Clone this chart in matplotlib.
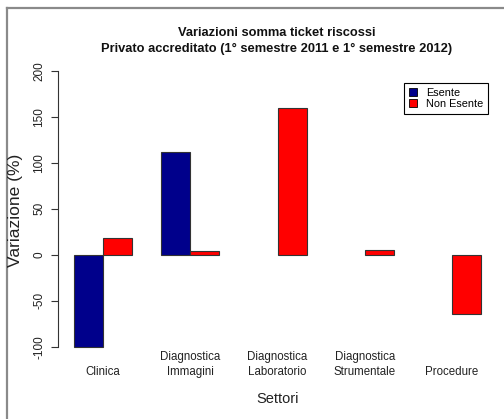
import matplotlib
matplotlib.use("Agg")
import matplotlib.pyplot as plt
from matplotlib.patches import Patch
from matplotlib.lines import Line2D
import numpy as np

categories = ["Clinica", "Diagnostica\nImmagini", "Diagnostica\nLaboratorio",
              "Diagnostica\nStrumentale", "Procedure"]
esente = [-100, 112, np.nan, np.nan, np.nan]
non_esente = [18, 4, 159, 5.5, -65]
yticks = [-100, -50, 0, 50, 100, 150, 200]
series_labels = ["Esente", "Non Esente"]
colors = ["#00008B", "#FF0000"]

REG = ["Liberation Sans", "DejaVu Sans"]

W, H = 504, 419
fig = plt.figure(figsize=(W / 100, H / 100), dpi=100)

# plot region in pixels
L, R, T, B = 57.7, 497.4, 59.7, 357.7
ax = fig.add_axes([L / W, (H - B) / H, (R - L) / W, (B - T) / H])

n = len(categories)
groups = np.arange(n)
x_blue = 1.5 + 3 * groups
x_red = 2.5 + 3 * groups
centers = 2.0 + 3 * groups

ax.bar(x_blue, esente, width=1.0, color=colors[0], edgecolor="#333333", linewidth=0.8)
ax.bar(x_red, non_esente, width=1.0, color=colors[1], edgecolor="#333333", linewidth=0.8)

ax.set_xlim(0.44, 15.56)
ax.set_ylim(-112, 212)

for s in ["top", "right", "bottom"]:
    ax.spines[s].set_visible(False)
ax.spines["left"].set_bounds(-100, 200)
ax.spines["left"].set_color("#333333")
ax.spines["left"].set_linewidth(0.8)

ax.set_xticks([])
ax.set_yticks(yticks)
ax.set_yticklabels([str(v) for v in yticks], rotation=90, va="center",
                   family=REG, fontsize=8.5, color="#222222")
ax.tick_params(axis="y", direction="out", length=5, width=0.8, color="#333333", pad=4)

for c, lab in zip(centers, categories):
    ax.text(c, -0.068, lab, transform=ax.get_xaxis_transform(), ha="center", va="bottom",
            family=REG, fontsize=8.3, color="#222222", linespacing=1.3)

fig.text(277.7 / W, 1 - 399 / H, "Settori", ha="center", va="center",
         family=REG, fontsize=10.5, color="#222222")
fig.text(16 / W, 1 - 210 / H, "Variazione (%)", ha="center", va="center", rotation=90,
         family=REG, fontsize=12.5, color="#222222")

fig.text(277 / W, 1 - 41 / H,
         "Variazioni somma ticket riscossi\nPrivato accreditato (1° semestre 2011 e 1° semestre 2012)",
         ha="center", va="center", family=REG, fontsize=9.3, fontweight="bold",
         color="#111111", linespacing=1.45)

handles = [Patch(facecolor=colors[0], edgecolor="black", linewidth=0.6),
           Patch(facecolor=colors[1], edgecolor="black", linewidth=0.6)]
leg = ax.legend(handles, series_labels, loc="upper left",
                bbox_to_anchor=(404 / W, 1 - 83 / H), bbox_transform=fig.transFigure,
                prop={"family": REG, "size": 7.8}, fancybox=False, framealpha=1,
                edgecolor="black", handlelength=0.75, handleheight=0.75,
                handletextpad=0.8, labelspacing=0.12, borderpad=0.45, borderaxespad=0)
leg.get_frame().set_linewidth(0.8)

# outer frame (top and left gray lines)
fig.add_artist(Line2D([7 / W, 1], [1 - 8 / H, 1 - 8 / H], transform=fig.transFigure,
                      color="#8a8a8a", linewidth=1.6))
fig.add_artist(Line2D([7 / W, 7 / W], [0, 1 - 8 / H], transform=fig.transFigure,
                      color="#8a8a8a", linewidth=1.6))

fig.savefig("out.png", dpi=100)
